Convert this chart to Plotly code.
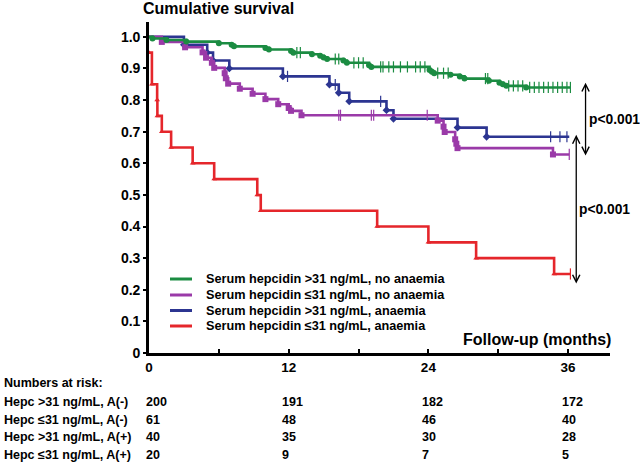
import plotly.graph_objects as go

# ---------------- data ----------------
# Kaplan-Meier step points: time (months) and cumulative survival after each event
green_t = [0, 0.3, 1.5, 3.2, 6.0, 7.1, 7.3, 10.0, 10.3, 12.2, 12.4, 14.0, 14.7, 15.0, 15.3,
           16.7, 17.0, 18.9, 19.1, 24.1, 24.3, 24.5, 25.9, 26.7, 27.1, 29.2, 30.1, 30.4, 30.7, 32.4]
green_s = [1.0, 0.995, 0.99, 0.985, 0.98, 0.975, 0.97, 0.965, 0.96, 0.955, 0.95, 0.945, 0.94, 0.935, 0.93,
           0.925, 0.918, 0.91, 0.905, 0.895, 0.89, 0.885, 0.88, 0.875, 0.868, 0.861, 0.855, 0.85, 0.845, 0.84]
green_cens = [12.7, 13.0, 16.0, 16.3, 17.6, 18.0, 18.4, 19.9, 20.1, 20.6, 21.0, 21.6, 22.2, 22.9, 23.3,
              23.7, 24.8, 25.3, 25.7, 28.9, 29.1, 30.9, 31.3, 31.7, 32.1, 32.7, 33.1, 33.5, 33.9, 34.3,
              34.7, 35.1, 35.5, 35.9, 36.2]
green_end = 36.2

purple_t = [0, 1.1, 3.1, 4.6, 4.9, 5.4, 5.6, 6.5, 6.6, 6.8, 7.8, 8.9, 10.0, 11.1, 12.0, 12.2, 13.1,
            24.8, 25.3, 25.4, 26.3, 26.4, 26.5, 34.7]
purple_s = [1.0, 0.984, 0.967, 0.951, 0.934, 0.918, 0.902, 0.885, 0.869, 0.852, 0.836, 0.820, 0.803,
            0.787, 0.775, 0.766, 0.752, 0.735, 0.716, 0.699, 0.676, 0.662, 0.648, 0.628]
purple_cens = [16.3, 16.45, 19.1, 19.3, 23.9, 36.1]
purple_end = 36.1

blue_t = [0, 3.0, 5.0, 5.5, 6.9, 11.5, 15.5, 16.3, 17.2, 20.4, 21.0, 26.5, 29.0]
blue_s = [1.0, 0.975, 0.95, 0.925, 0.90, 0.875, 0.849, 0.823, 0.796, 0.768, 0.741, 0.713, 0.684]
blue_cens = [11.9, 16.0, 19.9, 34.5, 35.3, 35.9]
blue_end = 36.1

red_t = [0, 0.25, 0.7, 0.72, 1.1, 1.9, 3.75, 5.6, 9.3, 9.6, 19.6, 24.0, 28.1, 34.8]
red_s = [0.95, 0.85, 0.80, 0.75, 0.70, 0.65, 0.60, 0.55, 0.50, 0.45, 0.40, 0.35, 0.30, 0.25]
red_cens = [36.2]
red_end = 36.2

group_names = ["Serum hepcidin >31 ng/mL, no anaemia",
               "Serum hepcidin ≤31 ng/mL, no anaemia",
               "Serum hepcidin >31 ng/mL, anaemia",
               "Serum hepcidin ≤31 ng/mL, anaemia"]
row_labels = ["Hepc >31 ng/mL, A(-)", "Hepc ≤31 ng/mL, A(-)",
              "Hepc >31 ng/mL, A(+)", "Hepc ≤31 ng/mL, A(+)"]
risk_times = [0, 12, 24, 36]
risk_green = [200, 191, 182, 172]
risk_purple = [61, 48, 46, 40]
risk_blue = [40, 35, 30, 28]
risk_red = [20, 9, 7, 5]

x_tickvals = [0, 6, 12, 18, 24, 30, 36]
x_ticktext = ["0", "", "12", "", "24", "", "36"]
y_tickvals = [0, 0.1, 0.2, 0.3, 0.4, 0.5, 0.6, 0.7, 0.8, 0.9, 1.0]
y_ticktext = ["0", "0.1", "0.2", "0.3", "0.4", "0.5", "0.6", "0.7", "0.8", "0.9", "1.0"]

# p-value brackets: (x month, S top, S bottom, label)
p_brackets = [(37.5, 0.855, 0.62, "p&lt;0.001"), (36.7, 0.69, 0.215, "p&lt;0.001")]

# ---------------- styling ----------------
W, H = 640, 463
ML, MR, MT, MB = 149, 30, 22, 110
XMAX = 39.6
YMAX = 1.047
FONT = "Liberation Sans, Arial, sans-serif"
colors = ["#1b8c42", "#9a3aa8", "#2c3591", "#e5262b"]
symbols = ["circle", "square", "diamond", "triangle-up"]
msizes = [6, 6, 6, 5]


def px_to_paper_x(px):
    return (px - ML) / (W - ML - MR)


def py_to_paper_y(py):
    return (H - MB - py) / (H - MB - MT)


def step_value(ts, ss, t):
    v = ss[0]
    for ti, si in zip(ts, ss):
        if ti <= t:
            v = si
    return v


fig = go.Figure()

groups = [(green_t, green_s, green_cens, green_end),
          (purple_t, purple_s, purple_cens, purple_end),
          (blue_t, blue_s, blue_cens, blue_end),
          (red_t, red_s, red_cens, red_end)]

draw_order = [2, 1, 0, 3]
for gi in draw_order:
    ts, ss, cens, tend = groups[gi]
    c = colors[gi]
    fig.add_trace(go.Scatter(x=ts + [tend], y=ss + [ss[-1]], mode="lines",
                             line=dict(color=c, width=2.6, shape="hv"),
                             showlegend=False, hoverinfo="skip"))
    ev_t = ts[1:] if gi != 3 else ts
    ev_s = ss[1:] if gi != 3 else ss
    fig.add_trace(go.Scatter(x=ev_t, y=ev_s, mode="markers",
                             marker=dict(symbol=symbols[gi], size=msizes[gi], color=c,
                                         line=dict(width=0)),
                             showlegend=False, hoverinfo="skip"))
    fig.add_trace(go.Scatter(x=cens, y=[step_value(ts, ss, t) for t in cens], mode="markers",
                             marker=dict(symbol="line-ns", size=8, line=dict(color=c, width=1.2)),
                             showlegend=False, hoverinfo="skip"))

annotations = []
shapes = []

# manual legend (line sample + label)
legend_py = [279, 295, 310.5, 326]
for gi in range(4):
    yy = py_to_paper_y(legend_py[gi])
    shapes.append(dict(type="line", xref="paper", yref="paper",
                       x0=px_to_paper_x(170), x1=px_to_paper_x(192), y0=yy, y1=yy,
                       line=dict(color=colors[gi], width=3)))
    annotations.append(dict(text=group_names[gi], xref="paper", yref="paper",
                            x=px_to_paper_x(204), y=yy, xanchor="left", yanchor="middle",
                            showarrow=False,
                            font=dict(size=12.7, color="black", family=FONT, weight="bold")))

annotations.append(dict(text="Cumulative survival", xref="paper", yref="paper",
                        x=px_to_paper_x(141), y=py_to_paper_y(9), xanchor="left", yanchor="middle",
                        showarrow=False, font=dict(size=16, color="black", family=FONT, weight="bold")))
annotations.append(dict(text="Follow-up (months)", xref="paper", yref="paper",
                        x=px_to_paper_x(613), y=py_to_paper_y(339), xanchor="right", yanchor="middle",
                        showarrow=False, font=dict(size=16, color="black", family=FONT, weight="bold")))
annotations.append(dict(text="Numbers at risk:", xref="paper", yref="paper",
                        x=px_to_paper_x(2), y=py_to_paper_y(383), xanchor="left", yanchor="middle",
                        showarrow=False, font=dict(size=12.5, color="black", family=FONT, weight="bold")))
row_py = [402, 419.5, 437, 454.5]
risks = [risk_green, risk_purple, risk_blue, risk_red]
for r in range(4):
    annotations.append(dict(text=row_labels[r], xref="paper", yref="paper",
                            x=px_to_paper_x(2), y=py_to_paper_y(row_py[r]), xanchor="left",
                            yanchor="middle", showarrow=False,
                            font=dict(size=12.5, color="black", family=FONT, weight="bold")))
    for t, n in zip(risk_times, risks[r]):
        annotations.append(dict(text=str(n), xref="x", yref="paper", x=t,
                                xshift=-len(str(t)) * 3.7 - 1,
                                y=py_to_paper_y(row_py[r]), xanchor="left", yanchor="middle",
                                showarrow=False,
                                font=dict(size=12.5, color="black", family=FONT, weight="bold")))

for (bx, s_top, s_bot, lab) in p_brackets:
    annotations.append(dict(x=bx, y=s_top, ax=bx, ay=s_bot, xref="x", yref="y", axref="x", ayref="y",
                            text="", showarrow=True, arrowhead=5, startarrowhead=5,
                            arrowside="end+start", arrowsize=1.1, arrowwidth=1.3, arrowcolor="black"))
    annotations.append(dict(x=bx, y=(s_top + s_bot) / 2, xref="x", yref="y", xanchor="left",
                            yanchor="middle", xshift=1, text=lab, showarrow=False,
                            font=dict(size=13.8, color="black", family=FONT, weight="bold")))

fig.update_layout(
    width=W, height=H,
    margin=dict(l=ML, r=MR, t=MT, b=MB),
    paper_bgcolor="white", plot_bgcolor="white",
    font=dict(family=FONT, color="black", weight="bold"),
    showlegend=False,
    hovermode=False,
    annotations=annotations,
    shapes=shapes,
    xaxis=dict(range=[0, XMAX], showgrid=False, zeroline=False, showline=True,
               linecolor="black", linewidth=2.6, ticks="inside", ticklen=4, tickwidth=2,
               tickcolor="black", tickvals=x_tickvals, ticktext=x_ticktext,
               tickfont=dict(size=13.5, family=FONT, color="black", weight="bold")),
    yaxis=dict(range=[0, YMAX], showgrid=False, zeroline=False, showline=True,
               linecolor="black", linewidth=2.6, ticks="outside", ticklen=3, tickwidth=2,
               tickcolor="black", tickvals=y_tickvals, ticktext=y_ticktext,
               tickfont=dict(size=14, family=FONT, color="black", weight="bold")),
)

fig.write_html("out.html", config={"displayModeBar": False},
               post_script="document.body.style.margin='0';")
